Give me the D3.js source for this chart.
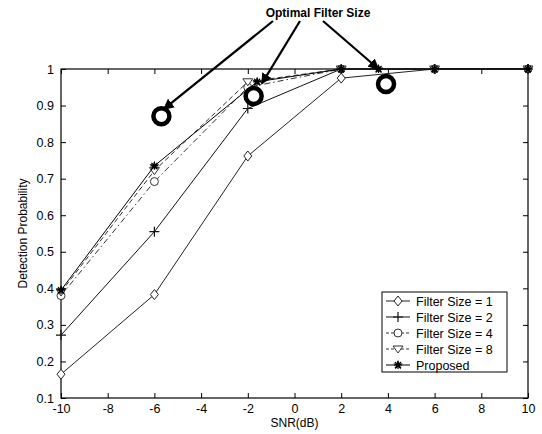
<!DOCTYPE html>
<html><head><meta charset="utf-8">
<script src="https://cdn.jsdelivr.net/npm/d3@7"></script>
<style>body{margin:0;background:#fff;} svg{display:block;font-family:"Liberation Sans",Arial,sans-serif;}</style>
</head><body>
<svg id="c" width="542" height="434"></svg>
<script>
const snr = [-10, -6, -2, 2, 6, 10];
const fs1 = [0.165, 0.383, 0.762, 0.975, 1, 1];
const fs2 = [0.272, 0.555, 0.892, 1, 1, 1];
const fs4 = [0.38, 0.692, 0.95, 1, 1, 1];
const fs8 = [0.39, 0.722, 0.965, 1, 1, 1];
const propX = [-10, -6, -1.6, 2, 3.6, 6, 10];
const propY = [0.395, 0.735, 0.965, 1, 1, 1, 1];
const xTicks = [-10, -8, -6, -4, -2, 0, 2, 4, 6, 8, 10];
const yTicks = [0.1, 0.2, 0.3, 0.4, 0.5, 0.6, 0.7, 0.8, 0.9, 1];
const legendLabels = ["Filter Size = 1", "Filter Size = 2", "Filter Size = 4", "Filter Size = 8", "Proposed"];
const optX = [-5.7, -1.75, 3.92];
const optY = [0.871, 0.926, 0.959];
const arrowTipX = [-5.6, -1.4, 3.6];
const arrowTipY = [0.89, 0.96, 1.0];
const titleText = "Optimal Filter Size";

const svg = d3.select("#c");
const L = 61, R = 528, T = 69, B = 398;
const x = d3.scaleLinear().domain([-10, 10]).range([L, R]);
const y = d3.scaleLinear().domain([0.1, 1]).range([B, T]);

svg.append("rect").attr("x", L).attr("y", T).attr("width", R - L).attr("height", B - T)
  .attr("fill", "none").attr("stroke", "#000").attr("stroke-width", 1.2);

const fmt = d => (d === 1 ? "1" : d3.format(".1f")(d));
const gx = svg.append("g").attr("transform", `translate(0,${B})`)
  .call(d3.axisBottom(x).tickValues(xTicks).tickSize(-5).tickPadding(6).tickFormat(d3.format("d")));
const gxt = svg.append("g").attr("transform", `translate(0,${T})`)
  .call(d3.axisTop(x).tickValues(xTicks).tickSize(-5).tickFormat(""));
const gy = svg.append("g").attr("transform", `translate(${L},0)`)
  .call(d3.axisLeft(y).tickValues(yTicks).tickSize(-5).tickPadding(7).tickFormat(fmt));
const gyr = svg.append("g").attr("transform", `translate(${R},0)`)
  .call(d3.axisRight(y).tickValues(yTicks).tickSize(-5).tickFormat(""));
[gx, gxt, gy, gyr].forEach(g => {
  g.select(".domain").remove();
  g.selectAll("line").attr("stroke", "#000");
  g.selectAll("text").attr("font-size", 12.5).attr("fill", "#000")
    .attr("font-family", "Liberation Sans, Arial, sans-serif");
});
gx.selectAll("text").text(d => d < 0 ? "-" + Math.abs(d) : d);

svg.append("text").attr("x", (L + R) / 2).attr("y", 427).attr("text-anchor", "middle")
  .attr("font-size", 12).text("SNR(dB)");
svg.append("text").attr("transform", `translate(27,${(T + B) / 2}) rotate(-90)`)
  .attr("text-anchor", "middle").attr("font-size", 12).text("Detection Probability");

const series = [
  {xs: snr, ys: fs1, dash: null, marker: "diamond", color: "#222"},
  {xs: snr, ys: fs2, dash: null, marker: "plus", color: "#111"},
  {xs: snr, ys: fs4, dash: "6,3,1.5,3", marker: "circle", color: "#333"},
  {xs: snr, ys: fs8, dash: "5,3", marker: "tri", color: "#333"},
  {xs: propX, ys: propY, dash: null, marker: "star", color: "#000"}
];
const line = d3.line().x(d => x(d[0])).y(d => y(d[1]));

function drawMarker(g, type, cx, cy, color) {
  const s = 4;
  if (type === "diamond") {
    g.append("path").attr("d", `M${cx},${cy - s - 1}L${cx + s},${cy}L${cx},${cy + s + 1}L${cx - s},${cy}Z`)
      .attr("fill", "#fff").attr("stroke", color).attr("stroke-width", 1);
  } else if (type === "plus") {
    g.append("path").attr("d", `M${cx - s - 1},${cy}H${cx + s + 1}M${cx},${cy - s - 1}V${cy + s + 1}`)
      .attr("stroke", color).attr("stroke-width", 1.2);
  } else if (type === "circle") {
    g.append("circle").attr("cx", cx).attr("cy", cy).attr("r", s)
      .attr("fill", "#fff").attr("stroke", color).attr("stroke-width", 1);
  } else if (type === "tri") {
    g.append("path").attr("d", `M${cx - s - 1},${cy - s + 1}H${cx + s + 1}L${cx},${cy + s}Z`)
      .attr("fill", "#fff").attr("stroke", color).attr("stroke-width", 1);
  } else if (type === "star") {
    g.append("path").attr("d", d3.symbol().type(d3.symbolStar).size(30)())
      .attr("transform", `translate(${cx},${cy})`).attr("fill", color);
    g.append("path").attr("d", `M${cx - s},${cy}H${cx + s}M${cx},${cy - s}V${cy + s}M${cx - 3},${cy - 3}L${cx + 3},${cy + 3}M${cx - 3},${cy + 3}L${cx + 3},${cy - 3}`)
      .attr("stroke", color).attr("stroke-width", 1.2);
  }
}

series.forEach(sr => {
  const pts = sr.xs.map((v, i) => [v, sr.ys[i]]);
  const g = svg.append("g");
  g.append("path").datum(pts).attr("d", line).attr("fill", "none")
    .attr("stroke", sr.color).attr("stroke-width", 1).attr("stroke-dasharray", sr.dash);
  pts.forEach(p => drawMarker(g, sr.marker, x(p[0]), y(p[1]), sr.color));
});

optX.forEach((v, i) => {
  svg.append("circle").attr("cx", x(v)).attr("cy", y(optY[i])).attr("r", 8)
    .attr("fill", "none").attr("stroke", "#000").attr("stroke-width", 4.5);
});

const defs = svg.append("defs");
defs.append("marker").attr("id", "ah").attr("viewBox", "0 0 10 10").attr("refX", 9).attr("refY", 5)
  .attr("markerWidth", 5).attr("markerHeight", 5).attr("orient", "auto")
  .append("path").attr("d", "M0,0L10,5L0,10Z").attr("fill", "#000");
const starts = [[273, 21], [300, 21], [323, 21]];
starts.forEach((st, i) => {
  svg.append("line").attr("x1", st[0]).attr("y1", st[1])
    .attr("x2", x(arrowTipX[i])).attr("y2", y(arrowTipY[i]))
    .attr("stroke", "#000").attr("stroke-width", 2.2).attr("marker-end", "url(#ah)");
});
svg.append("text").attr("x", 318).attr("y", 17).attr("text-anchor", "middle")
  .attr("font-size", 12).attr("font-weight", "bold").text(titleText);

const lg = svg.append("g");
lg.append("rect").attr("x", 382).attr("y", 292).attr("width", 125).attr("height", 80)
  .attr("fill", "#fff").attr("stroke", "#000").attr("stroke-width", 1);
legendLabels.forEach((lab, i) => {
  const ly = 301 + i * 16;
  const sr = series[i];
  lg.append("line").attr("x1", 386).attr("x2", 410).attr("y1", ly).attr("y2", ly)
    .attr("stroke", sr.color).attr("stroke-width", 1).attr("stroke-dasharray", sr.dash ? "3,2" : null);
  drawMarker(lg, sr.marker, 398, ly, sr.color);
  lg.append("text").attr("x", 416).attr("y", ly + 4.5).attr("font-size", 12.5).text(lab);
});
</script>
</body></html>
